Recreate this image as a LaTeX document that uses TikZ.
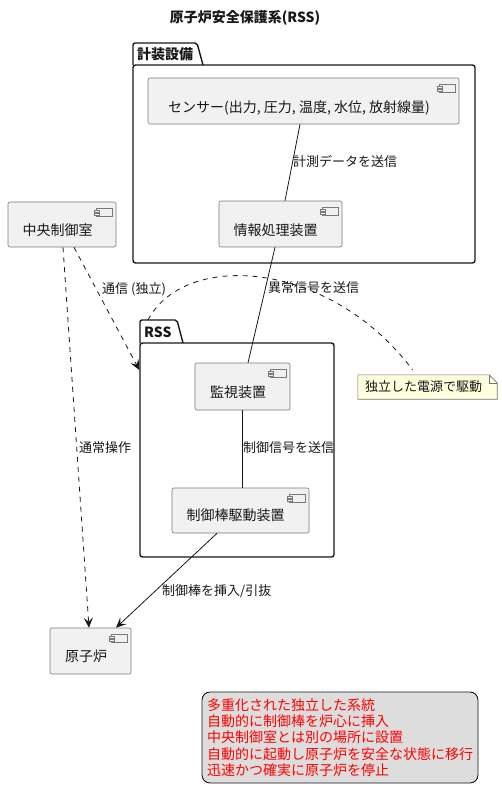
\documentclass[tikz,border=0pt]{standalone}
\usepackage{fontspec}
\setmainfont{Noto Sans CJK JP}
\usetikzlibrary{arrows.meta,calc}
\definecolor{compfill}{HTML}{F1F1F1}
\definecolor{compline}{HTML}{7A7A7A}
\definecolor{ink}{HTML}{181818}
\definecolor{notefill}{HTML}{FEFFDD}
\definecolor{legfill}{HTML}{DDDDDD}
\newcommand\compicon[1]{%
  \draw[iconline] ([shift={(-20,7)}]#1.north east) rectangle ([shift={(-4,15)}]#1.north east);
  \draw[iconline] ([shift={(-22,8.5)}]#1.north east) rectangle ([shift={(-17,10.5)}]#1.north east);
  \draw[iconline] ([shift={(-22,11.5)}]#1.north east) rectangle ([shift={(-17,13.5)}]#1.north east);
}
\begin{document}
\begin{tikzpicture}[x=1pt,y=-1pt,
  comp/.style={draw=compline, line width=0.6pt, fill=compfill, rounded corners=2pt, inner sep=0pt},
  iconline/.style={draw=compline, line width=0.5pt, fill=compfill},
  ctext/.style={font=\fontsize{14}{16}\selectfont, text=ink, inner sep=0pt},
  elbl/.style={font=\fontsize{13}{15}\selectfont, text=ink, inner sep=0pt, anchor=west},
  pkgbody/.style={draw=ink, line width=1.4pt, rounded corners=2.5pt, inner sep=0pt},
  pkgtab/.style={draw=ink, line width=1.4pt, rounded corners=2pt},
  pkglbl/.style={font=\fontsize{14}{16}\selectfont\bfseries, text=ink, inner sep=0pt, anchor=west},
  conn/.style={draw=ink, line width=0.8pt},
  dconn/.style={draw=ink, line width=0.8pt, dash pattern=on 5pt off 5pt},
  tip/.style={-{Stealth[length=10pt,width=9pt,inset=4pt]}}
]
\fill[white] (0,0) rectangle (502,802);
\useasboundingbox (0,0) rectangle (502,802);

% title
\node[font=\fontsize{14}{16}\selectfont\bfseries, text=ink, inner sep=0pt] (title) at (245,18) {原子炉安全保護系(RSS)};

% package 計装設備
\draw[pkgtab] (133,65) -- (133,43) -- (197,43) -- (203,65);
\node[pkgbody, minimum width=342pt, minimum height=198pt] (pkgA) at (304,164) {};
\node[pkglbl] (pkgAlbl) at (137,54) {計装設備};

% package RSS
\draw[pkgtab] (140,343) -- (140,320) -- (177,320) -- (183,343);
\node[pkgbody, minimum width=194pt, minimum height=214pt] (pkgR) at (237,450) {};
\node[pkglbl] (pkgRlbl) at (144,332) {RSS};
\coordinate (rsstab) at (148,320);

% components
\node[comp, minimum width=311pt, minimum height=46pt] (sensor) at (303.5,101) {};
\compicon{sensor}
\node[ctext] (sensorT) at ([shift={(-4.5,7)}]sensor.center) {センサー(出力, 圧力, 温度, 水位, 放射線量)};

\node[comp, minimum width=123pt, minimum height=46pt] (info) at (280.5,224) {};
\compicon{info}
\node[ctext] (infoT) at ([shift={(-5,6)}]info.center) {情報処理装置};

\node[comp, minimum width=108pt, minimum height=45pt] (ctrl) at (62,224.5) {};
\compicon{ctrl}
\node[ctext] (ctrlT) at ([shift={(-4.5,6)}]ctrl.center) {中央制御室};

\node[comp, minimum width=95pt, minimum height=47pt] (mon) at (242.5,386.5) {};
\compicon{mon}
\node[ctext] (monT) at ([shift={(-4.5,6)}]mon.center) {監視装置};

\node[comp, minimum width=137pt, minimum height=45pt] (drive) at (240.5,510.5) {};
\compicon{drive}
\node[ctext] (driveT) at ([shift={(-5,5)}]drive.center) {制御棒駆動装置};

\node[comp, minimum width=81pt, minimum height=46pt] (reactor) at (90.5,651) {};
\compicon{reactor}
\node[ctext] (reactorT) at ([shift={(-4.5,5)}]reactor.center) {原子炉};

% note
\node[minimum width=139pt, minimum height=24pt, inner sep=0pt] (note) at (427.5,387) {};
\draw[draw=ink!60, line width=0.6pt, fill=notefill]
  (note.north west) -- ([xshift=-8pt]note.north east) -- ([yshift=-8pt]note.north east) -- (note.south east) -- (note.south west) -- cycle;
\draw[draw=ink!60, line width=0.6pt] ([xshift=-8pt]note.north east) -- ([shift={(-8,8)}]note.north east) -- ([yshift=-8pt]note.north east);
\node[font=\fontsize{13}{15}\selectfont, text=ink, inner sep=0pt] (noteT) at ([xshift=-4pt]note.center) {独立した電源で駆動};
\draw[dconn] (rsstab) .. controls (185,250) and (330,260) .. ([shift={(-15,-5)}]note.north);

% connectors
\draw[conn] ([xshift=-3.5pt]sensor.south) -- ([xshift=4.5pt]info.north);
\node[elbl] (l1) at (293,162) {計測データを送信};

\draw[conn] ([xshift=-5.5pt]info.south) -- ([xshift=5.5pt]mon.north);
\node[elbl] (l2) at (268,288) {異常信号を送信};

\draw[conn] ([xshift=-0.5pt]mon.south) -- ([xshift=1.5pt]drive.north);
\node[elbl] (l3) at (243,448) {制御信号を送信};

\draw[conn, tip] ([xshift=-23.5pt]drive.south) -- ([xshift=25.5pt]reactor.north);
\node[elbl] (l4) at (162,591) {制御棒を挿入/引抜};

\draw[dconn, tip] ([xshift=1pt]ctrl.south) -- ([xshift=-1.5pt]reactor.north);
\node[elbl] (l5) at (79,448) {通常操作};

\draw[dconn, tip] ([xshift=12pt]ctrl.south) -- (pkgR.west |- 0,370);
\node[elbl, fill=white] (l6) at (102,289) {通信 (独立)};

% legend
\node[draw=ink, line width=0.9pt, fill=legfill, rounded corners=8pt, minimum width=276pt, minimum height=91pt, inner sep=0pt] (legend) at (340,737.5) {};
\node[font=\fontsize{14}{16.2}\selectfont, text=red, align=left, inner sep=0pt, anchor=west] (legendT) at (207,737.5) {多重化された独立した系統\\自動的に制御棒を炉心に挿入\\中央制御室とは別の場所に設置\\自動的に起動し原子炉を安全な状態に移行\\迅速かつ確実に原子炉を停止};
\end{tikzpicture}
\end{document}
